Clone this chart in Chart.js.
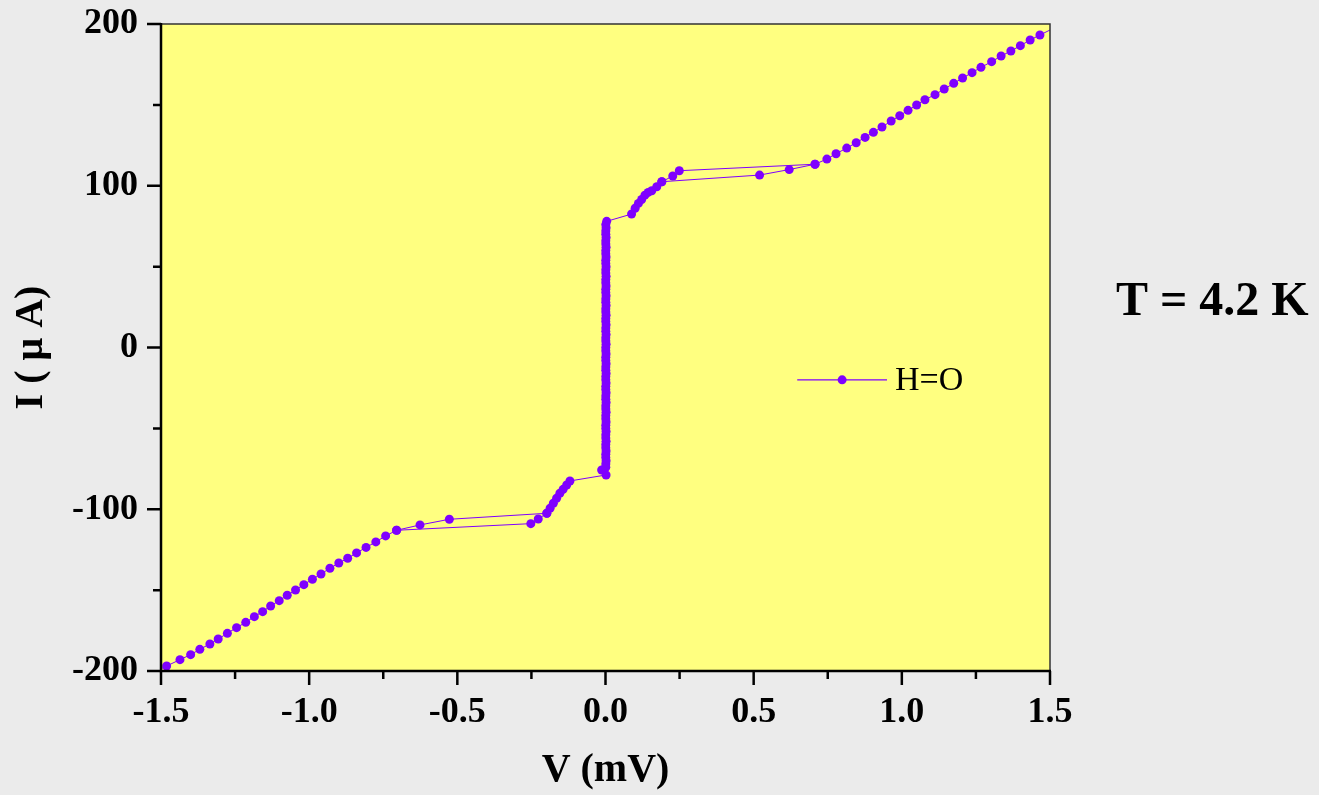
<!DOCTYPE html>
<html>
<head>
<meta charset="utf-8">
<script src="https://cdn.jsdelivr.net/npm/chart.js@4.4.1/dist/chart.umd.min.js"></script>
<style>
  html, body { margin: 0; padding: 0; background: #EBEBEB; }
  #wrap { width: 1319px; height: 795px; position: relative; }
</style>
</head>
<body>
<div id="wrap"><canvas id="c" width="1319" height="795"></canvas></div>
<script>
// ---------- data (V in mV, I in µA) ----------
// negative normal-state branch, forward sweep
const vNegBranch = [-1.52, -1.481, -1.436, -1.400, -1.369, -1.335, -1.307, -1.276, -1.245, -1.214, -1.185, -1.157, -1.130, -1.101, -1.074, -1.046, -1.018, -0.989, -0.960, -0.930, -0.900, -0.870, -0.840, -0.808, -0.775, -0.742, -0.705];
const iNegBranch = [-200.5, -196.9, -193.0, -189.9, -186.6, -183.3, -180.2, -176.7, -173.2, -169.9, -166.4, -163.3, -159.8, -156.5, -153.2, -149.9, -146.6, -143.3, -140.0, -136.5, -133.2, -130.3, -127.0, -123.6, -120.2, -116.5, -113.0];
// negative knee
const vNegKnee = [-0.252, -0.227, -0.198, -0.187, -0.176, -0.165, -0.154, -0.143, -0.131, -0.120];
const iNegKnee = [-108.9, -106.0, -102.5, -99.4, -96.3, -93.2, -90.1, -87.7, -85.0, -82.5];
// supercurrent branch
const vSuper = [0.002, -0.013, 0.001, 0.001, 0.002, 0.001, 0.001, 0.002, 0.001, 0.001, 0.002, 0.001, 0.001, 0.002, 0.001, 0.001, 0.002, 0.001, 0.001, 0.002, 0.001, 0.001, 0.002, 0.001, 0.001, 0.002, 0.001, 0.001, 0.002, 0.001, 0.001, 0.002, 0.001, 0.001, 0.002, 0.001, 0.001, 0.002, 0.001, 0.001, 0.002, 0.001, 0.001, 0.002, 0.001, 0.001, 0.002, 0.001, 0.001, 0.002, 0.001, 0.001, 0.002, 0.001, 0.001, 0.002, 0.001, 0.001, 0.002, 0.001, 0.001, 0.002, 0.001, 0.001, 0.002, 0.001, 0.001, 0.002, 0.001, 0.001, 0.002, 0.001, 0.001, 0.002, 0.001, 0.001, 0.002, 0.001, 0.004];
const iSuper = [-78.8, -75.7, -74, -72, -70, -68, -66, -64, -62, -60, -58, -56, -54, -52, -50, -48, -46, -44, -42, -40, -38, -36, -34, -32, -30, -28, -26, -24, -22, -20, -18, -16, -14, -12, -10, -8, -6, -4, -2, 0, 2, 4, 6, 8, 10, 12, 14, 16, 18, 20, 22, 24, 26, 28, 30, 32, 34, 36, 38, 40, 42, 44, 46, 48, 50, 52, 54, 56, 58, 60, 62, 64, 66, 68, 70, 72, 74, 76, 78, 80];
// positive knee
const vPosKnee = [0.088, 0.100, 0.111, 0.122, 0.133, 0.144, 0.156, 0.173, 0.190, 0.227, 0.249];
const iPosKnee = [82.5, 86.1, 89.1, 91.5, 94.2, 95.9, 96.9, 99.4, 102.5, 106.0, 109.3];
// positive normal-state branch
const vPosBranch = [0.707, 0.747, 0.778, 0.814, 0.846, 0.876, 0.904, 0.933, 0.964, 0.993, 1.021, 1.050, 1.078, 1.112, 1.143, 1.175, 1.205, 1.237, 1.267, 1.303, 1.335, 1.368, 1.400, 1.433, 1.466, 1.53];
const iPosBranch = [113.3, 116.5, 119.8, 123.3, 126.6, 129.9, 133.0, 136.3, 140.0, 143.3, 146.6, 149.9, 153.2, 156.3, 159.8, 163.3, 166.6, 169.9, 173.2, 176.7, 180.2, 183.3, 186.6, 190.1, 193.2, 199.0];
// return-sweep hysteresis segments
const vReturnPos = [0.707, 0.620, 0.520, 0.190];
const iReturnPos = [113.3, 110.0, 106.6, 102.5];
const vReturnNeg = [-0.198, -0.527, -0.626, -0.705];
const iReturnNeg = [-102.5, -106.2, -109.7, -113.0];

const seriesLabel = 'H=O';
const xTicks = { min: -1.5, max: 1.5, step: 0.25, labelEvery: 0.5 };
const yTicks = { min: -200, max: 200, step: 50, labelEvery: 100 };
const xTitle = 'V (mV)';
const yTitle = 'I ( μ A)';
const note = 'T = 4.2 K';

// ---------- styles ----------
const PURPLE = '#7F00FF';
const PLOT_BG = '#FFFF80';
const SERIF = '"Liberation Serif", "Times New Roman", serif';

function pts(vs, is) { return vs.map((v, k) => ({ x: v, y: is[k] })); }
const gap = { x: null, y: null };
const pathData = [
  ...pts(vNegBranch, iNegBranch),
  ...pts(vNegKnee, iNegKnee),
  ...pts(vSuper, iSuper),
  ...pts(vPosKnee, iPosKnee),
  ...pts(vPosBranch, iPosBranch),
  gap,
  ...pts(vReturnPos, iReturnPos),
  gap,
  ...pts(vReturnNeg, iReturnNeg)
];

function isMult(v, m) { const r = v / m; return Math.abs(r - Math.round(r)) < 1e-6; }

const decor = {
  id: 'decor',
  beforeDraw(chart) {
    const { ctx, chartArea: a } = chart;
    ctx.save();
    ctx.fillStyle = PLOT_BG;
    ctx.fillRect(a.left, a.top, a.right - a.left, a.bottom - a.top);
    ctx.restore();
  },
  afterDraw(chart) {
    const { ctx, chartArea: a } = chart;
    const xs = chart.scales.x, ys = chart.scales.y;
    ctx.save();
    // top & right frame
    ctx.strokeStyle = '#333333';
    ctx.lineWidth = 1.5;
    ctx.beginPath();
    ctx.moveTo(a.left, a.top); ctx.lineTo(a.right, a.top); ctx.lineTo(a.right, a.bottom);
    ctx.stroke();
    // axes
    ctx.strokeStyle = '#000';
    ctx.lineWidth = 2.5;
    ctx.beginPath();
    ctx.moveTo(a.left, a.top - 1); ctx.lineTo(a.left, a.bottom); ctx.lineTo(a.right + 1, a.bottom);
    ctx.stroke();
    // ticks
    ctx.lineWidth = 2.5;
    ctx.beginPath();
    xs.ticks.forEach(t => {
      const p = xs.getPixelForValue(t.value);
      const len = isMult(t.value, xTicks.labelEvery) ? 14 : 8;
      ctx.moveTo(p, a.bottom); ctx.lineTo(p, a.bottom + len);
    });
    ys.ticks.forEach(t => {
      const p = ys.getPixelForValue(t.value);
      const len = isMult(t.value, yTicks.labelEvery) ? 14 : 8;
      ctx.moveTo(a.left, p); ctx.lineTo(a.left - len, p);
    });
    ctx.stroke();
    // legend (inside plot)
    const ds = chart.data.datasets[0];
    const ly = ys.getPixelForValue(-20);
    const lx0 = xs.getPixelForValue(0.647), lx1 = xs.getPixelForValue(0.95);
    ctx.strokeStyle = ds.borderColor;
    ctx.lineWidth = 1.2;
    ctx.beginPath(); ctx.moveTo(lx0, ly); ctx.lineTo(lx1, ly); ctx.stroke();
    ctx.fillStyle = ds.pointBackgroundColor;
    ctx.beginPath(); ctx.arc((lx0 + lx1) / 2, ly, ds.pointRadius, 0, Math.PI * 2); ctx.fill();
    ctx.fillStyle = '#000';
    ctx.font = '34px ' + SERIF;
    ctx.textBaseline = 'middle';
    ctx.textAlign = 'left';
    ctx.fillText(ds.label, lx1 + 8, ly + 1);
    // temperature note
    ctx.font = 'bold 48px ' + SERIF;
    ctx.textBaseline = 'alphabetic';
    ctx.fillText(note, 1116, 315);
    ctx.restore();
  }
};

new Chart(document.getElementById('c'), {
  type: 'scatter',
  data: {
    datasets: [{
      label: seriesLabel,
      data: pathData,
      showLine: true,
      spanGaps: false,
      borderColor: PURPLE,
      borderWidth: 1,
      pointRadius: 4.5,
      pointHoverRadius: 4.5,
      pointBackgroundColor: PURPLE,
      pointBorderWidth: 0,
      clip: 0
    }]
  },
  options: {
    responsive: false,
    animation: false,
    events: [],
    layout: { padding: { left: 0, top: 24, right: 269, bottom: 0 } },
    plugins: { legend: { display: false }, tooltip: { enabled: false } },
    scales: {
      x: {
        type: 'linear',
        min: xTicks.min, max: xTicks.max,
        grid: { display: false, drawTicks: false },
        border: { display: false },
        afterFit(s) { s.height = 124; s.paddingLeft = 0; s.paddingRight = 0; },
        ticks: {
          stepSize: xTicks.step,
          autoSkip: false, maxRotation: 0,
          padding: 20,
          color: '#000',
          font: { family: SERIF, size: 36, weight: 'bold' },
          callback: v => isMult(v, xTicks.labelEvery) ? v.toFixed(1) : ''
        },
        title: {
          display: true, text: xTitle, color: '#000',
          font: { family: SERIF, size: 40, weight: 'bold' },
          padding: { top: 0, bottom: 0 }
        }
      },
      y: {
        type: 'linear',
        min: yTicks.min, max: yTicks.max,
        grid: { display: false, drawTicks: false },
        border: { display: false },
        afterFit(s) { s.width = 161; s.paddingTop = 0; s.paddingBottom = 0; },
        ticks: {
          stepSize: yTicks.step,
          autoSkip: false,
          padding: 23,
          color: '#000',
          font: { family: SERIF, size: 36, weight: 'bold' },
          callback: v => isMult(v, yTicks.labelEvery) ? String(v) : ''
        },
        title: {
          display: true, text: yTitle, color: '#000',
          font: { family: SERIF, size: 40, weight: 'bold' },
          padding: { top: 8, bottom: 0 }
        }
      }
    }
  },
  plugins: [decor]
});
</script>
</body>
</html>
